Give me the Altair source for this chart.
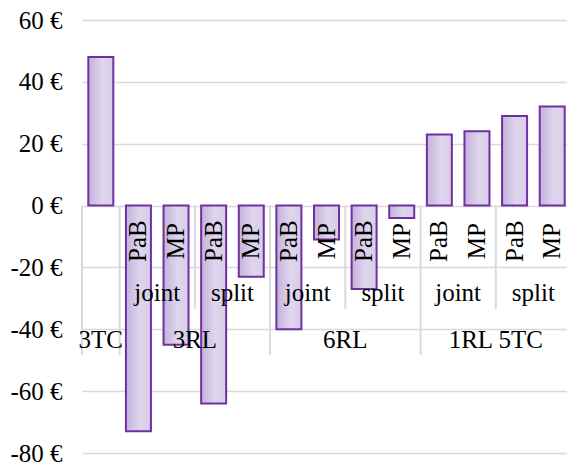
import altair as alt
import pandas as pd

# Data
variants = ["", "PaB", "MP", "PaB", "MP", "PaB", "MP", "PaB", "MP", "PaB", "MP", "PaB", "MP"]
modes = ["", "joint", "joint", "split", "split", "joint", "joint", "split", "split",
         "joint", "joint", "split", "split"]
configs = ["3TC", "3RL", "3RL", "3RL", "3RL", "6RL", "6RL", "6RL", "6RL",
           "1RL 5TC", "1RL 5TC", "1RL 5TC", "1RL 5TC"]
values = [48, -73, -45, -64, -23, -40, -11, -27, -4, 23, 24, 29, 32]
y_ticks = [-80, -60, -40, -20, 0, 20, 40, 60]

n = len(values)
bars = pd.DataFrame({"idx": list(range(n)), "value": values,
                     "variant": variants, "mode": modes, "config": configs})


def runs(labels, check_cfg=False):
    out = []
    start = 0
    for i in range(1, len(labels) + 1):
        if i == len(labels) or labels[i] != labels[start] or (
                check_cfg and configs[i] != configs[start]):
            out.append((labels[start], start, i))
            start = i
    return out


cfg_runs = runs(configs)
mode_runs = [r for r in runs(modes, True) if r[0] != ""]

lvl1 = bars[bars["variant"] != ""]
lvl2 = pd.DataFrame([{"label": l, "a": a, "b": b} for l, a, b in mode_runs])
lvl3 = pd.DataFrame([{"label": l, "a": a, "b": b} for l, a, b in cfg_runs])

long_b = sorted(set([a for _, a, _ in cfg_runs]))
short_b = sorted(set([a for _, a, _ in mode_runs]) - set(long_b))
seps_long = pd.DataFrame({"pos": long_b})
seps_short = pd.DataFrame({"pos": short_b})

FONT = "Liberation Serif"
FS = 25
GRID = "#d9d9d9"
# the category area runs to the right edge of the window
xs = alt.Scale(domain=[0, n], nice=False, zero=False, padding=0, range=[0, 489])
ys = alt.Scale(domain=[-80, 60], nice=False, padding=0)

base_y = alt.Y("value:Q", scale=ys,
               axis=alt.Axis(values=y_ticks, labelExpr="datum.value + ' €'",
                             domain=False, ticks=False, grid=True,
                             gridColor=GRID, gridWidth=1.5,
                             labelFont=FONT, labelFontSize=FS, labelColor="#000",
                             labelPadding=20, title=None))

grad = alt.Gradient(gradient="linear", x1=0, y1=0, x2=1, y2=0,
                    stops=[alt.GradientStop(offset=0, color="#c4b1dc"),
                           alt.GradientStop(offset=0.55, color="#dfd5ec"),
                           alt.GradientStop(offset=1, color="#d9cee8")])

bar_layer = alt.Chart(bars).transform_calculate(c="datum.idx + 0.5").mark_bar(
    width=25, color=grad, stroke="#7030a0", strokeWidth=2
).encode(
    x=alt.X("c:Q", scale=xs, axis=None),
    y=base_y,
    y2=alt.datum(0),
)

sep_long = alt.Chart(seps_long).mark_rule(color=GRID, strokeWidth=2).encode(
    x=alt.X("pos:Q", scale=xs, axis=None),
    y=alt.datum(0, scale=ys), y2=alt.datum(-48.3),
)
sep_short = alt.Chart(seps_short).mark_rule(color=GRID, strokeWidth=2).encode(
    x=alt.X("pos:Q", scale=xs, axis=None),
    y=alt.datum(0, scale=ys), y2=alt.datum(-33.4),
)

t1 = alt.Chart(lvl1).transform_calculate(c="datum.idx + 0.5").mark_text(
    font=FONT, fontSize=FS, angle=270, align="center", baseline="middle", color="#000"
).encode(x=alt.X("c:Q", scale=xs, axis=None), y=alt.datum(-11.5, scale=ys),
         text="variant:N")

t2 = alt.Chart(lvl2).transform_calculate(c="(datum.a + datum.b) / 2").mark_text(
    font=FONT, fontSize=FS, align="center", baseline="alphabetic", color="#000"
).encode(x=alt.X("c:Q", scale=xs, axis=None), y=alt.datum(-31, scale=ys),
         text="label:N")

t3 = alt.Chart(lvl3).transform_calculate(c="(datum.a + datum.b) / 2").mark_text(
    font=FONT, fontSize=FS, align="center", baseline="alphabetic", color="#000"
).encode(x=alt.X("c:Q", scale=xs, axis=None), y=alt.datum(-46, scale=ys),
         text="label:N")

chart = alt.layer(bar_layer, sep_long, sep_short, t1, t2, t3).properties(
    width=485, height=433,
    autosize=alt.AutoSizeParams(type="none"),
    padding={"left": 74, "top": 12, "right": 0, "bottom": 9},
).configure_view(stroke=None).configure_scale(continuousPadding=0)

chart.save("out.html", embed_options={"renderer": "svg", "actions": False})
